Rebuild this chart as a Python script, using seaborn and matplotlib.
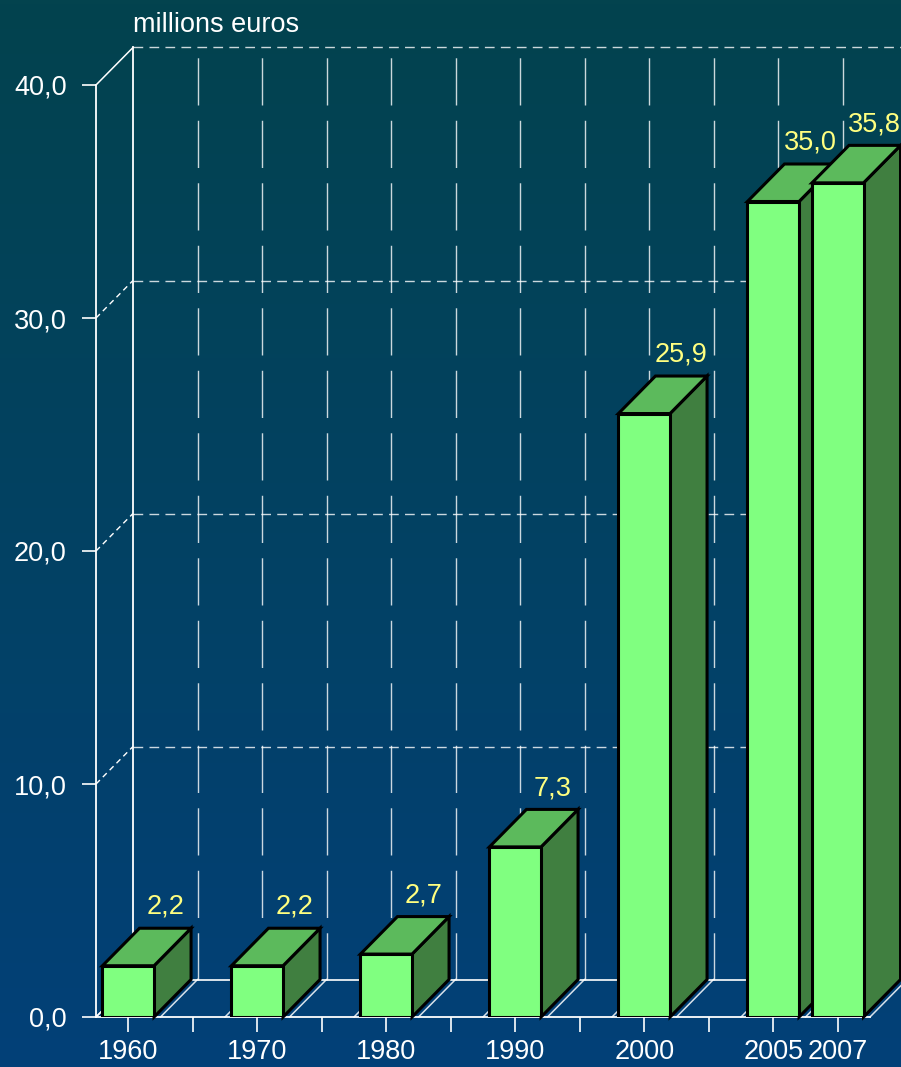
import numpy as np
import pandas as pd
import matplotlib
matplotlib.use("Agg")
import matplotlib.pyplot as plt
from matplotlib.patches import Polygon
import seaborn as sns

# ---------------- data ----------------
years = ["1960", "1970", "1980", "1990", "2000", "2005", "2007"]
values = [2.2, 2.2, 2.7, 7.3, 25.9, 35.0, 35.8]
value_labels = ["2,2", "2,2", "2,7", "7,3", "25,9", "35,0", "35,8"]
# category slots on the axis (empty slots are gaps between labelled years)
slot_order = ["1960", "_g1", "1970", "_g2", "1980", "_g3", "1990", "_g4",
              "2000", "_g5", "2005", "2007"]
y_ticks = [0, 10, 20, 30, 40]
y_tick_labels = ["0,0", "10,0", "20,0", "30,0", "40,0"]
unit_label = "millions euros"

# ---------------- style ----------------
plt.rcParams["font.family"] = ["Liberation Sans", "DejaVu Sans"]
FRONT = "#80FF80"
TOP = "#5CBA5C"
SIDE = "#407F40"
LABEL_YELLOW = "#FFFF80"
GRID = (1, 1, 1, 0.8)
FS = 19.5

W, H, DPI = 901, 1067, 100
fig = plt.figure(figsize=(W / DPI, H / DPI), dpi=DPI)

# background gradient
bg = fig.add_axes([0, 0, 1, 1], zorder=-10)
top_c = np.array([3, 67, 78]) / 255
bot_c = np.array([2, 64, 120]) / 255
t = np.linspace(0, 1, 256)[:, None]
grad = (top_c[None, :] * (1 - t) + bot_c[None, :] * t)[:, None, :]
bg.imshow(grad, aspect="auto", extent=[0, 1, 0, 1])
bg.set_axis_off()

# front plane axes
ax = fig.add_axes([96 / W, 50 / H, 774 / W, 932 / H])
ax.set_facecolor("none")
n_slots = len(slot_order)
ax.set_xlim(-0.5, n_slots - 0.5)
ax.set_ylim(0, 40)

# 3D depth in data units (≈37 px both directions)
px_per_slot = 774 / n_slots
px_per_unit = 932 / 40
dx = 37 / px_per_slot
dy = 37.5 / px_per_unit

x0, x1 = -0.5, n_slots - 0.5
ymax = 40
dash_h = (0, (7, 4.5))
dash_v = (0, (34, 11))

# back wall & floor
ax.plot([x0 + dx, x0 + dx], [dy, ymax + dy], color="white", lw=1.3, clip_on=False, zorder=0.6)
ax.plot([x0, x0 + dx], [ymax, ymax + dy], color="white", lw=1.1, clip_on=False, zorder=0.6)
ax.plot([x0, x0 + dx], [0, dy], color="white", lw=1.1, clip_on=False, zorder=0.6)
for v in y_ticks[1:]:
    ax.plot([x0 + dx, x1 + dx], [v + dy, v + dy], color=GRID, lw=1.0,
            linestyle=dash_h, clip_on=False, zorder=0.5)
    if v != ymax:
        ax.plot([x0, x0 + dx], [v, v + dy], color="white", lw=1.0,
                linestyle=(0, (4, 3)), clip_on=False, zorder=0.5)
for k in range(1, n_slots):
    xv = x0 + k + dx
    ax.plot([xv, xv], [dy, ymax + dy], color=GRID, lw=1.0,
            linestyle=dash_v, clip_on=False, zorder=0.5)
# floor
ax.plot([x0 + dx, x1 + dx], [dy, dy], color="white", lw=1.2, clip_on=False, zorder=0.6)
for k in range(0, n_slots + 1):
    ax.plot([x0 + k, x0 + k + dx], [0, dy], color=(1, 1, 1, 0.85), lw=1.1,
            clip_on=False, zorder=0.6)

# bars (front faces) via seaborn
df = pd.DataFrame({"year": years, "value": values})
sns.barplot(data=df, x="year", y="value", order=slot_order, color=FRONT,
            saturation=1, edgecolor="black", linewidth=2.2, width=0.8, ax=ax,
            errorbar=None)

bars = [p for p in ax.patches if p.get_height() > 0]
for i, (p, lab) in enumerate(zip(bars, value_labels)):
    bx0 = p.get_x()
    bx1 = bx0 + p.get_width()
    h = p.get_height()
    z = 3 + i * 0.1
    p.set_zorder(z + 0.05)
    p.set_facecolor(FRONT)
    side = Polygon([(bx1, 0), (bx1 + dx, dy), (bx1 + dx, h + dy), (bx1, h)],
                   closed=True, facecolor=SIDE, edgecolor="black", lw=2.2,
                   joinstyle="miter", clip_on=False, zorder=z)
    top = Polygon([(bx0, h), (bx0 + dx, h + dy), (bx1 + dx, h + dy), (bx1, h)],
                  closed=True, facecolor=TOP, edgecolor="black", lw=2.2,
                  joinstyle="miter", clip_on=False, zorder=z)
    ax.add_patch(side)
    ax.add_patch(top)
    ax.annotate(lab, xy=((bx0 + bx1) / 2 + dx, h + dy), xytext=(0, 6),
                textcoords="offset points", ha="center", va="bottom",
                color=LABEL_YELLOW, fontsize=FS, zorder=10, annotation_clip=False)

# axes styling
for s in ["top", "right"]:
    ax.spines[s].set_visible(False)
for s in ["left", "bottom"]:
    ax.spines[s].set_color("white")
    ax.spines[s].set_linewidth(1.3)
ax.set_yticks(y_ticks)
ax.set_yticklabels(y_tick_labels)
ax.set_xticks(range(n_slots))
ax.set_xticklabels([s if s in years else "" for s in slot_order])
ax.tick_params(axis="y", colors="white", labelcolor="white", labelsize=FS,
               length=10, width=1.2, pad=11, direction="out")
ax.tick_params(axis="x", colors="white", labelcolor="white", labelsize=FS,
               length=11, width=1.2, pad=4.5, direction="out")
ax.set_xlabel("")
ax.set_ylabel("")
ax.grid(False)

fig.text(133 / W, 1 - 25 / H, unit_label, color="white", fontsize=FS,
         ha="left", va="center")

fig.savefig("out.png", dpi=DPI)
